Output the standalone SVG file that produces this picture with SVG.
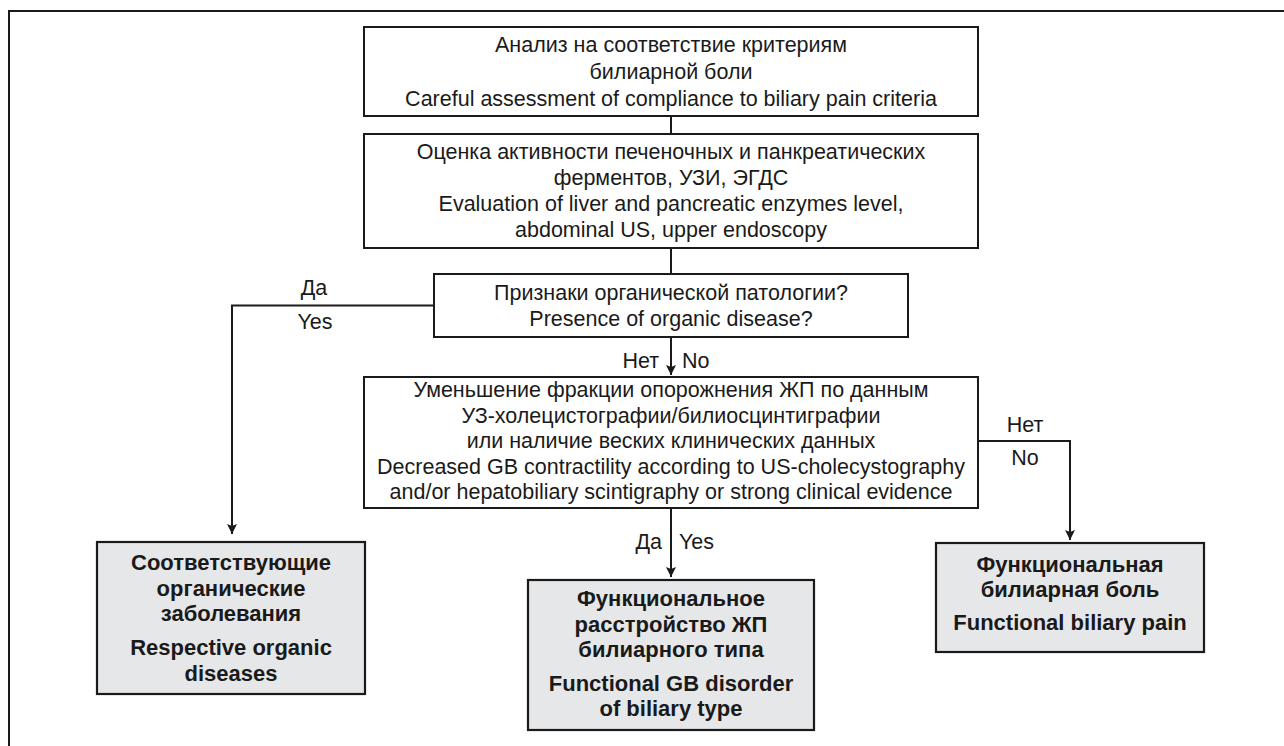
<svg xmlns="http://www.w3.org/2000/svg" width="1284" height="746" viewBox="0 0 1284 746">
<defs>
<style>
.box{fill:#fff;stroke:#1a1a1a;stroke-width:2}
.res{fill:#e6e7e8;stroke:#1a1a1a;stroke-width:2.2}
.ln{fill:none;stroke:#1a1a1a;stroke-width:2}
text{font-family:"Liberation Sans",Arial,sans-serif;font-size:21.5px;fill:#1a1a1a}
.c{text-anchor:middle}
.b{font-weight:bold;font-size:22px}
</style>
<marker id="ah" viewBox="0 0 10 10" refX="10" refY="5" markerWidth="10" markerHeight="10" markerUnits="userSpaceOnUse" orient="auto">
<path d="M0,0 L10,5 L0,10 L2,5 z" fill="#1a1a1a"/>
</marker>
</defs>
<rect width="1284" height="746" fill="#fff"/>
<g id="frame">
<path class="ln" d="M9,746 V11 H1284"/>
</g>
<g id="connectors">
<line class="ln" x1="671" y1="116" x2="671" y2="134"/>
<line class="ln" x1="671" y1="248" x2="671" y2="274"/>
<path class="ln" d="M434,305.5 H232 V534" marker-end="url(#ah)"/>
<line class="ln" x1="671" y1="337" x2="671" y2="375" marker-end="url(#ah)"/>
<line class="ln" x1="671" y1="508" x2="671" y2="577" marker-end="url(#ah)"/>
<path class="ln" d="M978,441 H1070 V540" marker-end="url(#ah)"/>
<text x="314" y="295" class="c">Да</text>
<text x="315" y="329" class="c">Yes</text>
<text x="659" y="368" text-anchor="end">Нет</text>
<text x="682" y="368">No</text>
<text x="662" y="549" text-anchor="end">Да</text>
<text x="679" y="549">Yes</text>
<text x="1025" y="432" class="c">Нет</text>
<text x="1025" y="465" class="c">No</text>
</g>
<g id="n1">
<rect class="box" x="364" y="27" width="614" height="89"/>
<text x="671" y="52" class="c">Анализ на соответствие критериям</text>
<text x="671" y="79" class="c">билиарной боли</text>
<text x="671" y="106" class="c">Careful assessment of compliance to biliary pain criteria</text>
</g>
<g id="n2">
<rect class="box" x="364" y="134" width="614" height="114"/>
<text x="671" y="159" class="c">Оценка активности печеночных и панкреатических</text>
<text x="671" y="185" class="c">ферментов, УЗИ, ЭГДС</text>
<text x="671" y="211" class="c">Evaluation of liver and pancreatic enzymes level,</text>
<text x="671" y="237" class="c">abdominal US, upper endoscopy</text>
</g>
<g id="n3">
<rect class="box" x="434" y="274" width="474" height="63"/>
<text x="671" y="300" class="c">Признаки органической патологии?</text>
<text x="671" y="326" class="c">Presence of organic disease?</text>
</g>
<g id="n4">
<rect class="box" x="364" y="377" width="614" height="131"/>
<text x="671" y="397" class="c">Уменьшение фракции опорожнения ЖП по данным</text>
<text x="671" y="422.5" class="c">УЗ-холецистографии/билиосцинтиграфии</text>
<text x="671" y="448" class="c">или наличие веских клинических данных</text>
<text x="671" y="473.5" class="c">Decreased GB contractility according to US-cholecystography</text>
<text x="671" y="499" class="c">and/or hepatobiliary scintigraphy or strong clinical evidence</text>
</g>
<g id="n5">
<rect class="res" x="97" y="542" width="268" height="152"/>
<text x="231" y="570" class="c b">Соответствующие</text>
<text x="231" y="596" class="c b">органические</text>
<text x="231" y="621" class="c b">заболевания</text>
<text x="231" y="655" class="c b">Respective organic</text>
<text x="231" y="681" class="c b">diseases</text>
</g>
<g id="n6">
<rect class="res" x="528" y="580" width="286" height="150"/>
<text x="671" y="606" class="c b">Функциональное</text>
<text x="671" y="632" class="c b">расстройство ЖП</text>
<text x="671" y="657" class="c b">билиарного типа</text>
<text x="671" y="691" class="c b">Functional GB disorder</text>
<text x="671" y="716" class="c b">of biliary type</text>
</g>
<g id="n7">
<rect class="res" x="936" y="543" width="268" height="109"/>
<text x="1070" y="572" class="c b">Функциональная</text>
<text x="1070" y="597" class="c b">билиарная боль</text>
<text x="1070" y="630" class="c b">Functional biliary pain</text>
</g>
</svg>
